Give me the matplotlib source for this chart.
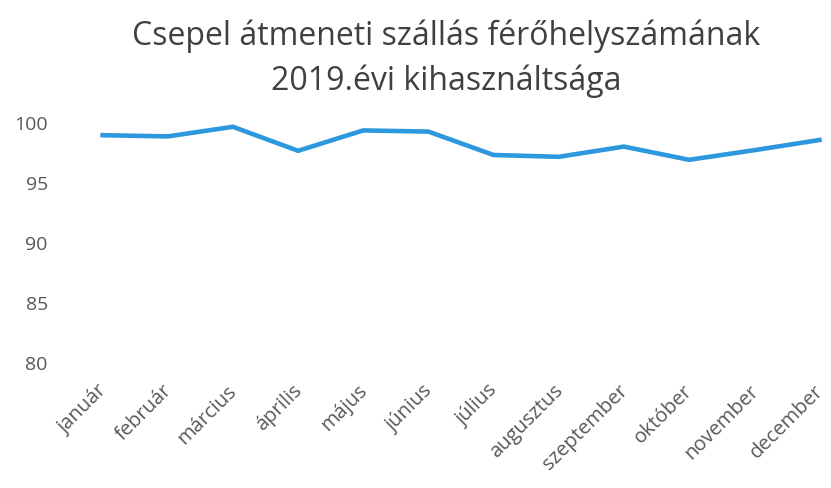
import matplotlib
matplotlib.use("Agg")
import matplotlib.pyplot as plt
import matplotlib.transforms as mtransforms

months = ["január", "február", "március", "április", "május", "június",
          "július", "augusztus", "szeptember", "október", "november", "december"]
values = [98.9, 98.8, 99.6, 97.6, 99.3, 99.2, 97.25, 97.1, 97.95, 96.85, 97.65, 98.5]
yticks = [80, 85, 90, 95, 100]
title_lines = ["Csepel átmeneti szállás férőhelyszámának", "2019.évi kihasználtsága"]

plt.rcParams['font.family'] = ['Open Sans', 'DejaVu Sans']

W, H = 831, 489
fig = plt.figure(figsize=(W / 100, H / 100), dpi=100)
ax = fig.add_axes([70 / W, (H - 363) / H, 782 / W, 240 / H])
x = list(range(len(months)))
ax.plot(x, values, color="#2E98DE", linewidth=3.3, clip_on=False,
        solid_joinstyle='miter')
ax.set_xlim(-0.5, len(months) - 0.5)
ax.set_ylim(80, 100)
ax.set_yticks(yticks)
ax.set_yticklabels([str(v) for v in yticks], fontsize=14, color="#595959")
ax.set_xticks(x)
ax.set_xticklabels(months, rotation=45, ha='right', rotation_mode='anchor',
                   fontsize=14.5, color="#595959")
ax.tick_params(length=0, axis='y', pad=16)
ax.tick_params(length=0, axis='x', pad=13)
for s in ax.spines.values():
    s.set_visible(False)

offset = mtransforms.ScaledTranslation(-6 / 100, 0, fig.dpi_scale_trans)
for lbl in ax.get_xticklabels():
    lbl.set_transform(lbl.get_transform() + offset)

fig.text(446 / W, 1 - 45 / H, title_lines[0], ha='center', va='baseline',
         fontsize=23, color="#404040")
fig.text(446 / W, 1 - 90 / H, title_lines[1], ha='center', va='baseline',
         fontsize=23, color="#404040")

fig.savefig("out.png", dpi=100, facecolor="white")
